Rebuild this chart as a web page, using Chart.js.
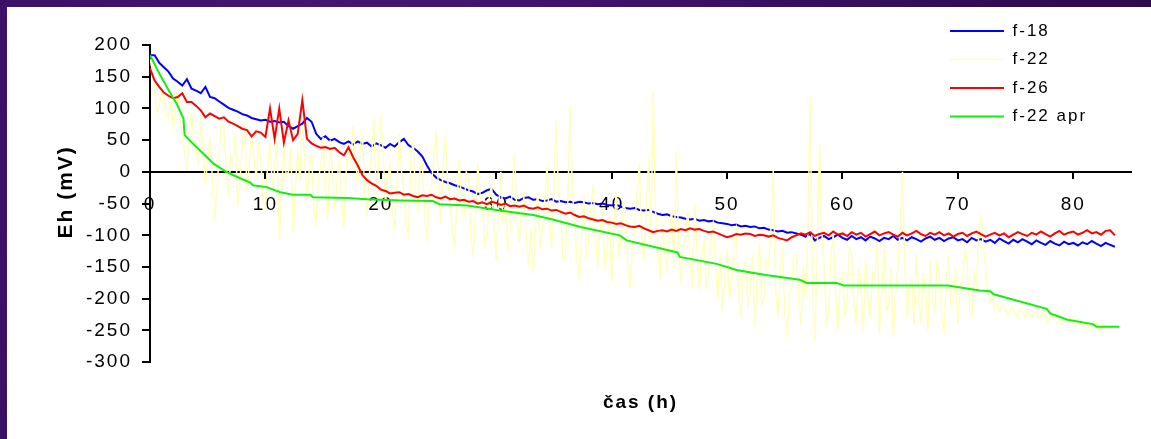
<!DOCTYPE html>
<html>
<head>
<meta charset="utf-8">
<title>Eh f-18, f-22, f-26</title>
<script src="https://cdn.jsdelivr.net/npm/chart.js@4.4.1/dist/chart.umd.min.js"></script>
<style>
  html, body { margin: 0; padding: 0; }
  body {
    width: 1151px; height: 439px; overflow: hidden;
    background: radial-gradient(circle at 30% 40%, #4d1a7a 0%, #3b1066 45%, #2b0a4a 100%);
  }
  #wrap { position: absolute; left: 7px; top: 7px; width: 1144px; height: 432px; background: #fff; }
</style>
</head>
<body>
<div id="wrap"><canvas id="ehChart"></canvas></div>
<script>
// measurement times (h) for f-18 and f-26
const hours = [
  0, 0.4, 0.8, 1.2, 1.6, 2, 2.4, 2.8, 3.2, 3.6,
  4, 4.4, 4.8, 5.2, 5.6, 6, 6.4, 6.8, 7.2, 7.6,
  8, 8.4, 8.8, 9.2, 9.6, 10, 10.4, 10.8, 11.2, 11.6,
  12, 12.4, 12.8, 13.2, 13.6, 14, 14.4, 14.8, 15.2, 15.6,
  16, 16.4, 16.8, 17.2, 17.6, 18, 18.4, 18.8, 19.2, 19.6,
  20, 20.4, 20.8, 21.2, 21.6, 22, 22.4, 22.8, 23.2, 23.6,
  24, 24.4, 24.8, 25.2, 25.6, 26, 26.4, 26.8, 27.2, 27.6,
  28, 28.4, 28.8, 29.2, 29.6, 30, 30.4, 30.8, 31.2, 31.6,
  32, 32.4, 32.8, 33.2, 33.6, 34, 34.4, 34.8, 35.2, 35.6,
  36, 36.4, 36.8, 37.2, 37.6, 38, 38.4, 38.8, 39.2, 39.6,
  40, 40.4, 40.8, 41.2, 41.6, 42, 42.4, 42.8, 43.2, 43.6,
  44, 44.4, 44.8, 45.2, 45.6, 46, 46.4, 46.8, 47.2, 47.6,
  48, 48.4, 48.8, 49.2, 49.6, 50, 50.4, 50.8, 51.2, 51.6,
  52, 52.4, 52.8, 53.2, 53.6, 54, 54.4, 54.8, 55.2, 55.6,
  56, 56.4, 56.8, 57.2, 57.6, 58, 58.4, 58.8, 59.2, 59.6,
  60, 60.4, 60.8, 61.2, 61.6, 62, 62.4, 62.8, 63.2, 63.6,
  64, 64.4, 64.8, 65.2, 65.6, 66, 66.4, 66.8, 67.2, 67.6,
  68, 68.4, 68.8, 69.2, 69.6, 70, 70.4, 70.8, 71.2, 71.6,
  72, 72.4, 72.8, 73.2, 73.6, 74, 74.4, 74.8, 75.2, 75.6,
  76, 76.4, 76.8, 77.2, 77.6, 78, 78.4, 78.8, 79.2, 79.6,
  80, 80.4, 80.8, 81.2, 81.6, 82, 82.4, 82.8, 83.2, 83.6
];

// Eh (mV)
const ehF18 = [
  184, 184, 172, 165, 158, 147, 142, 136, 146, 131,
  128, 124, 134, 118, 116, 111, 106, 101, 98, 95,
  91, 89, 85, 83, 81, 82, 79, 80, 78, 79,
  72, 68, 72, 76, 85, 79, 60, 52, 56, 49,
  52, 47, 44, 48, 43, 48, 44, 46, 40, 45,
  42, 38, 44, 40, 47, 52, 42, 38, 32, 24,
  10, -2, -9, -13, -16, -18, -21, -23, -26, -29,
  -31, -35, -33, -29, -27, -36, -40, -42, -39, -44,
  -45, -41, -40, -44, -43, -46, -45, -43, -47, -46,
  -48, -47, -49, -47, -48, -50, -49, -51, -50, -52,
  -53, -52, -55, -57, -58, -57, -60, -61, -60, -63,
  -66, -68, -67, -70, -71, -72, -74, -75, -74, -77,
  -76, -78, -77, -80, -81, -82, -84, -83, -86, -85,
  -87, -86, -89, -88, -91, -92, -94, -93, -96, -95,
  -97, -99, -102, -98, -108, -104, -101, -106, -103, -99,
  -104, -107, -101, -106, -103, -108, -102, -105, -109, -104,
  -106, -101, -107, -104, -108, -103, -106, -110, -105, -102,
  -107, -104, -109, -105, -103, -108, -106, -111, -104, -108,
  -106, -110, -107, -112, -105, -109, -113, -107, -111, -106,
  -110, -114, -108, -112, -115, -109, -113, -116, -110, -114,
  -112, -116, -111, -114, -109, -113, -117, -112, -115, -118
];

const ehF26 = [
  163, 144, 134, 125, 120, 116, 118, 124, 110, 110,
  104, 97, 86, 92, 88, 84, 86, 79, 76, 72,
  68, 66, 56, 64, 62, 55, 100, 52, 100, 46,
  81, 50, 60, 113, 52, 45, 41, 38, 39, 36,
  38, 31, 26, 39, 23, 10, -5, -13, -18, -22,
  -28, -30, -34, -33, -32, -36, -35, -38, -40, -37,
  -38, -36, -40, -42, -39, -43, -42, -45, -44, -47,
  -46, -50, -48, -51, -47, -49, -52, -50, -54, -53,
  -55, -53, -57, -58, -56, -59, -58, -61, -60, -63,
  -66, -64, -68, -71, -70, -73, -75, -77, -76, -79,
  -80, -82, -81, -84, -86, -87, -85, -89, -92, -95,
  -93, -92, -94, -91, -93, -90, -92, -89, -91, -90,
  -93, -95, -94, -97, -100, -103, -101, -98, -99, -97,
  -98, -101, -99, -100, -102, -100, -104, -106, -108, -103,
  -100, -97, -99, -95, -101, -98, -96, -100, -94, -99,
  -97, -101, -95, -99, -96, -102, -98, -94, -100, -97,
  -95, -99, -102, -96, -100, -97, -93, -98, -101, -96,
  -99, -95, -100, -97, -102, -98, -96, -101, -97, -94,
  -98, -102, -99, -96, -100, -97, -103, -99, -95, -98,
  -101, -96, -99, -94, -98, -102, -97, -93, -99, -96,
  -94, -99, -96, -92, -97, -95, -99, -93, -92, -100
];

// f-22 was logged more often
const f22Hours = [
  0, 0.2, 0.4, 0.6, 0.8, 1, 1.2, 1.4, 1.6, 1.8, 2, 2.2, 2.4, 2.6, 2.8, 3, 3.2, 3.4, 3.6, 3.8,
  4, 4.2, 4.4, 4.6, 4.8, 5, 5.2, 5.4, 5.6, 5.8, 6, 6.2, 6.4, 6.6, 6.8, 7, 7.2, 7.4, 7.6, 7.8,
  8, 8.2, 8.4, 8.6, 8.8, 9, 9.2, 9.4, 9.6, 9.8, 10, 10.2, 10.4, 10.6, 10.8, 11, 11.2, 11.4, 11.6, 11.8,
  12, 12.2, 12.4, 12.6, 12.8, 13, 13.2, 13.4, 13.6, 13.8, 14, 14.2, 14.4, 14.6, 14.8, 15, 15.2, 15.4, 15.6, 15.8,
  16, 16.2, 16.4, 16.6, 16.8, 17, 17.2, 17.4, 17.6, 17.8, 18, 18.2, 18.4, 18.6, 18.8, 19, 19.2, 19.4, 19.6, 19.8,
  20, 20.2, 20.4, 20.6, 20.8, 21, 21.2, 21.4, 21.6, 21.8, 22, 22.2, 22.4, 22.6, 22.8, 23, 23.2, 23.4, 23.6, 23.8,
  24, 24.2, 24.4, 24.6, 24.8, 25, 25.2, 25.4, 25.6, 25.8, 26, 26.2, 26.4, 26.6, 26.8, 27, 27.2, 27.4, 27.6, 27.8,
  28, 28.2, 28.4, 28.6, 28.8, 29, 29.2, 29.4, 29.6, 29.8, 30, 30.2, 30.4, 30.6, 30.8, 31, 31.2, 31.4, 31.6, 31.8,
  32, 32.2, 32.4, 32.6, 32.8, 33, 33.2, 33.4, 33.6, 33.8, 34, 34.2, 34.4, 34.6, 34.8, 35, 35.2, 35.4, 35.6, 35.8,
  36, 36.2, 36.4, 36.6, 36.8, 37, 37.2, 37.4, 37.6, 37.8, 38, 38.2, 38.4, 38.6, 38.8, 39, 39.2, 39.4, 39.6, 39.8,
  40, 40.2, 40.4, 40.6, 40.8, 41, 41.2, 41.4, 41.6, 41.8, 42, 42.2, 42.4, 42.6, 42.8, 43, 43.2, 43.4, 43.6, 43.8,
  44, 44.2, 44.4, 44.6, 44.8, 45, 45.2, 45.4, 45.6, 45.8, 46, 46.2, 46.4, 46.6, 46.8, 47, 47.2, 47.4, 47.6, 47.8,
  48, 48.2, 48.4, 48.6, 48.8, 49, 49.2, 49.4, 49.6, 49.8, 50, 50.2, 50.4, 50.6, 50.8, 51, 51.2, 51.4, 51.6, 51.8,
  52, 52.2, 52.4, 52.6, 52.8, 53, 53.2, 53.4, 53.6, 53.8, 54, 54.2, 54.4, 54.6, 54.8, 55, 55.2, 55.4, 55.6, 55.8,
  56, 56.2, 56.4, 56.6, 56.8, 57, 57.2, 57.4, 57.6, 57.8, 58, 58.2, 58.4, 58.6, 58.8, 59, 59.2, 59.4, 59.6, 59.8,
  60, 60.2, 60.4, 60.6, 60.8, 61, 61.2, 61.4, 61.6, 61.8, 62, 62.2, 62.4, 62.6, 62.8, 63, 63.2, 63.4, 63.6, 63.8,
  64, 64.2, 64.4, 64.6, 64.8, 65, 65.2, 65.4, 65.6, 65.8, 66, 66.2, 66.4, 66.6, 66.8, 67, 67.2, 67.4, 67.6, 67.8,
  68, 68.2, 68.4, 68.6, 68.8, 69, 69.2, 69.4, 69.6, 69.8, 70, 70.2, 70.4, 70.6, 70.8, 71, 71.2, 71.4, 71.6, 71.8,
  72, 72.2, 72.4, 72.6, 72.8, 73, 73.2, 73.4, 73.6, 73.8, 74, 74.2, 74.4, 74.6, 74.8, 75, 75.2, 75.4, 75.6, 75.8,
  76, 76.2, 76.4, 76.6, 76.8, 77, 77.2, 77.4, 77.6, 77.8, 78, 78.2, 78.4, 78.6, 78.8, 79, 79.2, 79.4, 79.6, 79.8,
  80, 80.2, 80.4, 80.6, 80.8, 81, 81.2, 81.4, 81.6, 81.8, 82, 82.2, 82.4, 82.6, 82.8, 83, 83.2
];

const ehF22 = [
  178, 160, 130, 95, 104, 128, 120, 90, 85, 112, 70, 100, 129, 84, 60, 30, 2, 60, 95, 48,
  40, 10, 86, 35, -20, 20, 55, -10, -72, -30, 30, 75, 70, 5, -40, 25, 15, 60, -55, -15,
  45, 80, -30, 10, 60, 25, -10, 40, 20, -45, -60, 15, 45, -25, 5, 50, -108, -40, 45, -5,
  0, 40, -97, -20, 35, -15, 70, 20, -45, 5, 30, -60, -80, -10, 10, 55, -30, -75, 50, 0,
  -60, -15, 20, -50, -89, 0, 45, 10, 73, 25, -20, 35, 60, -30, -70, -5, 25, 85, -40, 10,
  92, 30, -50, -10, 10, -65, -90, -20, 60, 0, -30, -85, -100, 20, 50, -35, -60, 5, 15, -70,
  -110, -40, -20, 30, 63, -30, -80, 10, 58, -15, -40, -95, -120, -50, 20, -60, -70, 0, -10, -105,
  -130, -70, 13, -35, -60, -115, -100, -40, -20, -90, -140, -60, 0, -80, -50, -125, -90, -20, 29, -75,
  -110, -60, -40, -100, -150, -90, -160, -70, -30, -120, -90, -45, 10, -85, -120, -20, 81, -40, -60, -140,
  -130, -50, 105, -30, -80, -140, -170, -100, -40, -130, -110, -60, -20, -95, -150, -90, -60, -155, -120, -70,
  -175, -90, -30, -130, -110, -50, -60, -150, -184, -120, -90, -30, 13, -100, -140, -60, 23, -110, 126, -60,
  -120, -170, -80, -130, -160, -90, -60, -150, 31, -110, -176, -120, -100, -60, -140, -185, -50, -120, -187, -130,
  -110, -180, -160, -100, -80, -150, -200, -130, -219, -170, -120, -200, -170, -110, -90, -190, -230, -150, -140, -210,
  -190, -130, -245, -170, -110, -210, -200, -140, -150, -90, 2, -180, -230, -160, -120, -220, -261, -190, -180, -130,
  -130, -200, -242, -150, -200, -100, 118, -180, -266, -140, 45, -90, -150, -240, -220, -130, -100, -190, -250, -170,
  -160, -230, -200, -120, -130, -210, -240, -150, -180, -250, -140, -200, -230, -160, -170, -110, -255, -190, -120, -220,
  -210, -150, -261, -190, -150, -90, 0, -140, -230, -180, -170, -240, -130, -200, -240, -160, -190, -250, -140, -200,
  -220, -140, -160, -230, -250, -170, -130, -210, -200, -150, -240, -180, -170, -120, -140, -220, -230, -160, -180, -100,
  -66, -120, -150, -190, -205, -198, -215, -208, -220, -210, -212, -222, -225, -214, -218, -226, -228, -216, -222, -230,
  -218, -226, -230, -220, -222, -232, -226, -219, -232, -238, -224, -231, -230, -222, -236, -240, -228, -236, -234, -226,
  -238, -244, -232, -240, -240, -246, -236, -248, -244, -236, -238, -250, -246, -240, -242, -250, -248
];

// smoothed f-22 curve (apr) has its own breakpoints
const aprHours = [
  0, 0.9, 1.7, 2.3, 2.9, 3.0, 3.7, 4.6, 5.5, 6.6,
  7.8, 8.7, 8.9, 10.1, 11.3, 12.4, 13.9, 14.1, 17.1, 18.8,
  21.7, 24.5, 25.1, 27.5, 30.3, 33.2, 34.9, 37.3, 40.7, 41.3,
  45.7, 45.9, 49.1, 50.9, 53.5, 56.3, 56.9, 59.5, 60.1, 69.1,
  71.9, 72.8, 73.1, 77.7, 78.0, 79.5, 81.7, 82.0, 84.0
];
const ehF22apr = [
  184, 152, 126, 108, 84, 58, 45, 29, 13, 0,
  -10, -17, -21, -24, -32, -36, -36, -40, -41, -43,
  -45, -46, -51, -53, -61, -68, -75, -87, -100, -108,
  -127, -134, -145, -155, -163, -170, -175, -175, -179, -179,
  -187, -188, -193, -216, -223, -233, -240, -244, -244
];

const seriesNames = ['f-18', 'f-22', 'f-26', 'f-22 apr'];
const seriesColors = ['#0000ff', '#ffffbe', '#ff0000', '#10f010'];

const yTicks = { min: -300, max: 200, step: 50 };
const xTicks = { min: 0, max: 85, step: 10 };

const toPoints = (ts, vs) => ts.map((t, i) => ({ x: t, y: vs[i] }));

Chart.defaults.font.family = "'Liberation Sans', Arial, sans-serif";
Chart.defaults.color = '#000';

// wider letter spacing for all chart text
const spacedText = {
  id: 'spacedText',
  beforeLayout(chart) { chart.ctx.letterSpacing = '2px'; },
  beforeDraw(chart) { chart.ctx.letterSpacing = '2px'; }
};

// legend sits inside the plot, top right
const legendInside = {
  id: 'legendInside',
  afterLayout(chart) {
    const lg = chart.legend;
    const w = lg.width, h = lg.height;
    lg.left = 931.5;
    lg.top = 4;
    lg.right = lg.left + w;
    lg.bottom = lg.top + h;
  }
};

const line = (label, data, color, width, order) => ({
  label, data, order,
  borderColor: color,
  backgroundColor: color,
  borderWidth: width,
  pointRadius: 0,
  tension: 0,
  fill: false
});

new Chart(document.getElementById('ehChart'), {
  type: 'line',
  data: {
    // later series are drawn on top, as in the original sheet
    datasets: [
      line(seriesNames[0], toPoints(hours, ehF18), seriesColors[0], 2, 4),
      line(seriesNames[1], toPoints(f22Hours, ehF22), seriesColors[1], 1.5, 3),
      line(seriesNames[2], toPoints(hours, ehF26), seriesColors[2], 2, 2),
      line(seriesNames[3], toPoints(aprHours, ehF22apr), seriesColors[3], 2, 1)
    ]
  },
  options: {
    responsive: true,
    maintainAspectRatio: false,
    animation: false,
    events: [],
    layout: { padding: { left: 0, top: 38, right: 20, bottom: 15 } },
    plugins: {
      tooltip: { enabled: false },
      legend: {
        position: 'chartArea',
        align: 'start',
        labels: {
          usePointStyle: true,
          pointStyle: 'line',
          pointStyleWidth: 54,
          padding: 11.5,
          font: { size: 17 },
          color: '#000',
          sort: (a, b) => a.datasetIndex - b.datasetIndex
        }
      }
    },
    scales: {
      x: {
        type: 'linear',
        position: { y: 0 },
        min: xTicks.min,
        max: xTicks.max,
        afterBuildTicks(scale) {
          scale.ticks = scale.ticks.filter(t => t.value % xTicks.step === 0);
        },
        ticks: { stepSize: xTicks.step, padding: 15, maxRotation: 0, autoSkip: false, font: { size: 19 } },
        grid: { drawOnChartArea: false, drawTicks: true, tickLength: 6, color: '#000', lineWidth: 2 },
        border: { display: true, color: '#000', width: 2 }
      },
      xTitle: {
        type: 'linear',
        position: 'bottom',
        min: xTicks.min,
        max: xTicks.max,
        ticks: { display: false },
        grid: { display: false, drawTicks: false },
        border: { display: false },
        title: {
          display: true,
          text: 'čas (h)',
          font: { size: 19, weight: 'bold' },
          padding: { top: 29, bottom: 10 }
        }
      },
      y: {
        min: yTicks.min,
        max: yTicks.max,
        afterFit(scale) { scale.width = 143; },
        ticks: { stepSize: yTicks.step, padding: 10, font: { size: 19 } },
        grid: { drawOnChartArea: false, drawTicks: true, tickLength: 8, color: '#000', lineWidth: 2 },
        border: { display: true, color: '#000', width: 2 },
        title: {
          display: true,
          text: '   Eh (mV)',
          font: { size: 21, weight: 'bold' },
          padding: { top: 47, bottom: 0 }
        }
      }
    }
  },
  plugins: [spacedText, legendInside]
});
</script>
</body>
</html>
